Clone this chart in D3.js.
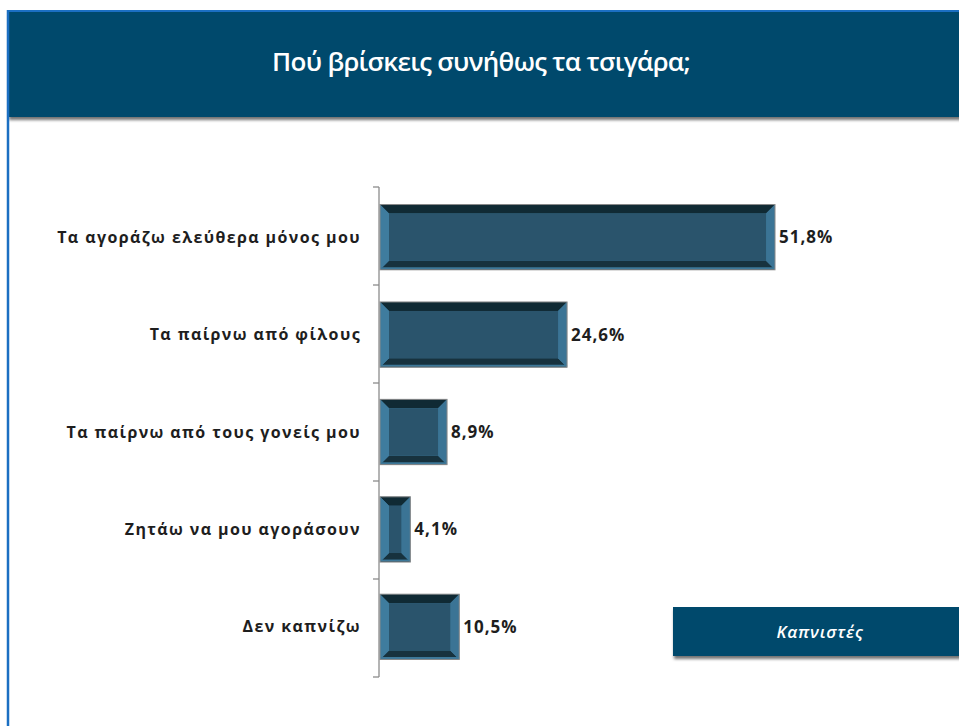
<!DOCTYPE html>
<html><head><meta charset="utf-8">
<script src="https://cdn.jsdelivr.net/npm/d3@7"></script>
<style>
html,body{margin:0;padding:0;background:#fff;}
svg{display:block;}
</style></head>
<body>
<svg id="chart" width="959" height="726"></svg>
<script>
const title = "Πού βρίσκεις συνήθως τα τσιγάρα;";
const categories = ["Τα αγοράζω ελεύθερα μόνος μου","Τα παίρνω από φίλους","Τα παίρνω από τους γονείς μου","Ζητάω να μου αγοράσουν","Δεν καπνίζω"];
const values = [51.8, 24.6, 8.9, 4.1, 10.5];
const valueLabels = ["51,8%","24,6%","8,9%","4,1%","10,5%"];
const legendLabel = "Καπνιστές";

const svg = d3.select("#chart");
const defs = svg.append("defs");
const f = defs.append("filter").attr("id","sh").attr("x","-5%").attr("y","-20%").attr("width","115%").attr("height","160%");
f.append("feDropShadow").attr("dx",1).attr("dy",3).attr("stdDeviation",1.5).attr("flood-color","#000").attr("flood-opacity",0.55);

// frame
svg.append("rect").attr("x",0).attr("y",0).attr("width",959).attr("height",726).attr("fill","#fff");
svg.append("rect").attr("x",8).attr("y",11).attr("width",960).attr("height",106).attr("fill","#064a6c").attr("filter","url(#sh)");
svg.append("line").attr("x1",8).attr("x2",959).attr("y1",11).attr("y2",11).attr("stroke","#1b6fc2").attr("stroke-width",2);
svg.append("line").attr("x1",8).attr("x2",8).attr("y1",10).attr("y2",726).attr("stroke","#1b6fc2").attr("stroke-width",2.5);

svg.append("text").attr("x",481).attr("y",71).attr("text-anchor","middle")
  .attr("fill","#fff").attr("font-family","'Open Sans',sans-serif").attr("font-weight",600)
  .attr("font-size",26).attr("letter-spacing",-0.7).text(title);

const x0 = 379;
const x = d3.scaleLinear().domain([0,60]).range([x0, x0 + 458.7]);
const y = d3.scaleBand().domain(categories).range([187,677]).paddingInner(0.33).paddingOuter(0.18);

// axis
const axisG = svg.append("g").attr("transform",`translate(${x0},0)`);
axisG.append("line").attr("x1",0).attr("x2",0).attr("y1",187).attr("y2",677).attr("stroke","#8c8c8c").attr("stroke-width",1.3);
const bounds = d3.range(categories.length+1).map(i => 187 + i*(490/categories.length));
axisG.selectAll("line.tick").data(bounds).join("line").attr("class","tick")
  .attr("x1",-6).attr("x2",0).attr("y1",d=>d).attr("y2",d=>d).attr("stroke","#8c8c8c").attr("stroke-width",1.3);

// category labels
svg.append("g").selectAll("text").data(categories).join("text")
  .attr("x",361).attr("y",d=>y(d)+y.bandwidth()/2).attr("dy","0.35em")
  .attr("text-anchor","end").attr("font-family","'Open Sans',sans-serif")
  .attr("font-weight","bold").attr("font-size",16).attr("letter-spacing",1.4).attr("fill","#1e1e1e").text(d=>d);

// bars with bevel
const bars = svg.append("g").selectAll("g").data(categories.map((c,i)=>({c,v:values[i],l:valueLabels[i]}))).join("g");
bars.each(function(d){
  const g = d3.select(this);
  const X0 = x(0)+1, X1 = x(d.v), Y0 = y(d.c), Y1 = Y0 + y.bandwidth();
  const w = X1 - X0, h = Y1 - Y0;
  const b = Math.min(9, w/3.2);
  const pts = a => a.map(p=>p.join(",")).join(" ");
  g.append("rect").attr("x",X0).attr("y",Y0).attr("width",w).attr("height",h).attr("fill","#3d7899");
  g.append("polygon").attr("points",pts([[X0,Y0],[X1,Y0],[X1-b,Y0+b],[X0+b,Y0+b]])).attr("fill","#102a34");
  g.append("polygon").attr("points",pts([[X0,Y1],[X1,Y1],[X1-b,Y1-b],[X0+b,Y1-b]])).attr("fill","#17323e");
  g.append("polygon").attr("points",pts([[X0,Y0],[X0+b,Y0+b],[X0+b,Y1-b],[X0,Y1]])).attr("fill","#3f7c9e");
  g.append("polygon").attr("points",pts([[X1,Y0],[X1-b,Y0+b],[X1-b,Y1-b],[X1,Y1]])).attr("fill","#3b7495");
  g.append("rect").attr("x",X0+b).attr("y",Y0+b).attr("width",Math.max(0,w-2*b)).attr("height",h-2*b).attr("fill","#2a546c");
  g.append("line").attr("x1",X0).attr("x2",X1).attr("y1",Y1-1.5).attr("y2",Y1-1.5).attr("stroke","#3d7899").attr("stroke-width",2);
  g.append("rect").attr("x",X0).attr("y",Y0).attr("width",w).attr("height",h).attr("fill","none").attr("stroke","#8a8a8a").attr("stroke-width",1);
  g.append("text").attr("x",X1+4).attr("y",(Y0+Y1)/2).attr("dy","0.35em")
    .attr("font-family","'Open Sans',sans-serif").attr("font-weight","bold").attr("font-size",17).attr("letter-spacing",1)
    .attr("fill","#1e1e1e").text(d.l);
});

// legend
svg.append("rect").attr("x",673).attr("y",607).attr("width",300).attr("height",49).attr("fill","#064a6c").attr("filter","url(#sh)");
svg.append("text").attr("x",820).attr("y",632).attr("dy","0.35em").attr("text-anchor","middle")
  .attr("fill","#fff").attr("font-style","italic").attr("font-weight",600).attr("font-family","'Open Sans',sans-serif")
  .attr("font-size",17).attr("letter-spacing",0.8).text(legendLabel);
</script>
</body></html>
